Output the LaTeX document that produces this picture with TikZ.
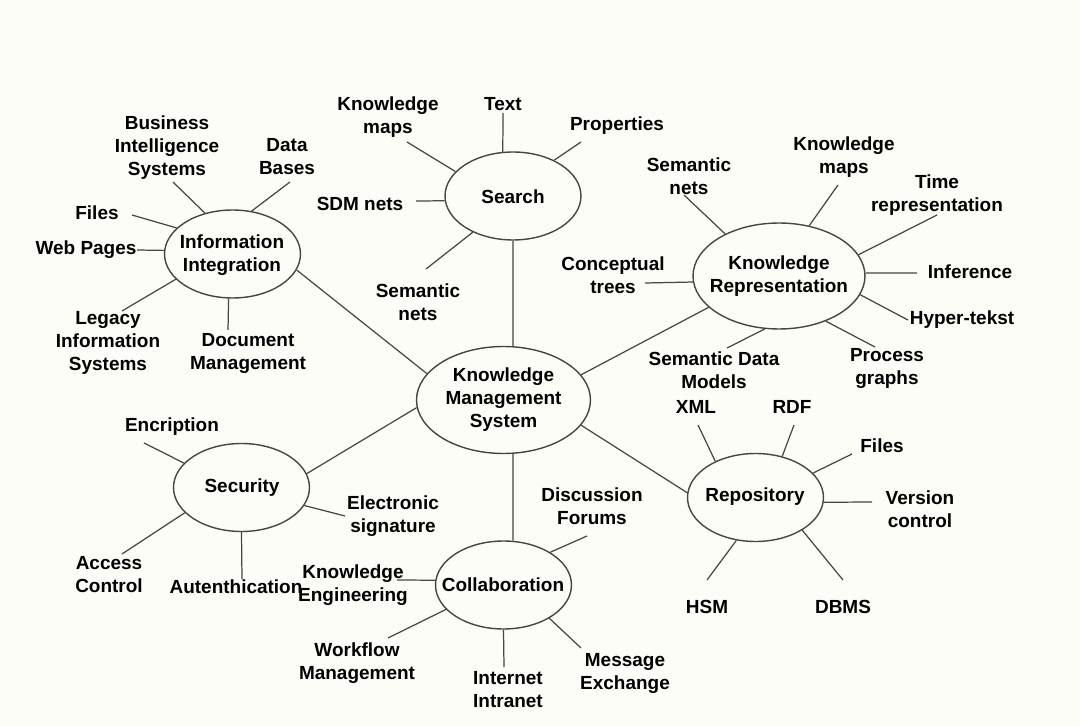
\documentclass[tikz,border=0pt]{standalone}
\usepackage{fontspec}
\setmainfont{Liberation Sans}
\usetikzlibrary{shapes.geometric}
\definecolor{bg}{RGB}{253,253,248}
\definecolor{edgec}{RGB}{70,70,70}
\tikzset{
  hub/.style={ellipse, draw=edgec, line width=0.8pt, inner sep=0pt, minimum width=2.72cm, minimum height=1.76cm},
  bighub/.style={hub, minimum width=3.48cm, minimum height=2.14cm},
  lbl/.style={font=\bfseries\fontsize{10.8pt}{13.1pt}\selectfont, align=center, inner sep=0pt, text=black},
  edge/.style={draw=edgec, line width=0.7pt}
}
\begin{document}
\begin{tikzpicture}[x=0.02cm, y=-0.02cm]
\fill[bg] (0,0) rectangle (1080,726);
\useasboundingbox (0,0) rectangle (1080,726);

% hubs
\node[bighub] (kms) at (503.5,400) {};
\node[bighub, minimum width=3.44cm, minimum height=2.12cm] (kr) at (779,276) {};
\node[hub] (search) at (513,196) {};
\node[hub] (ii) at (232.5,254) {};
\node[hub] (sec) at (241.5,487.5) {};
\node[hub] (col) at (503.5,585) {};
\node[hub] (rep) at (755.5,497.5) {};

\node[lbl] (kmsT) at (503.5,400) {Knowledge\\Management\\System};
\node[lbl] (krT) at (779,276) {Knowledge\\Representation};
\node[lbl] (searchT) at (513,197) {Search};
\node[lbl] (iiT) at (232,255) {Information\\Integration};
\node[lbl] (secT) at (242,488) {Security};
\node[lbl] (colT) at (503,585) {Collaboration};
\node[lbl] (repT) at (755,497) {Repository};

% hub connections
\draw[edge] (kms.80) -- (search.270);
\draw[edge] (kms.161) -- (ii.346);
\draw[edge] (kms.18) -- (kr.204);
\draw[edge] (kms.185) -- (sec.12);
\draw[edge] (kms.342) -- (rep.176);
\draw[edge] (kms.280) -- (col.78);

% Search leaves
\node[lbl] (sKM) at (388,117) {Knowledge\\maps};
\node[lbl] (sText) at (503,104) {Text};
\node[lbl] (sProp) at (617,126) {Properties};
\node[lbl] (sSDM) at (360,204) {SDM nets};
\node[lbl] (sSem) at (418,302) {Semantic\\nets};
\coordinate (sKMe) at (407,142);
\coordinate (sTexte) at (503,113);
\coordinate (sPrope) at (581,142);
\coordinate (sSDMe) at (416,201);
\coordinate (sSeme) at (426,269);
\draw[edge] (search.157) -- (sKMe);
\draw[edge] (search.103) -- (sTexte);
\draw[edge] (search.41) -- (sPrope);
\draw[edge] (search.184) -- (sSDMe);
\draw[edge] (search.222) -- (sSeme);

% Information Integration leaves
\node[lbl] (iBIS) at (167,148) {Business\\Intelligence\\Systems};
\node[lbl] (iDB) at (287,157) {Data\\Bases};
\node[lbl] (iFiles) at (97,213) {Files};
\node[lbl] (iWeb) at (86,250) {Web Pages};
\node[lbl] (iLeg) at (108,343) {Legacy\\Information\\Systems};
\node[lbl] (iDoc) at (248,353) {Document\\Management};
\coordinate (iBISe) at (173,182);
\coordinate (iDBe) at (290,182);
\coordinate (iFilese) at (132,215);
\coordinate (iWebe) at (137,250);
\coordinate (iLege) at (122,311);
\coordinate (iDoce) at (228,330);
\draw[edge] (ii.124) -- (iBISe);
\draw[edge] (ii.66) -- (iDBe);
\draw[edge] (ii.155) -- (iFilese);
\draw[edge] (ii.177) -- (iWebe);
\draw[edge] (ii.204) -- (iLege);
\draw[edge] (ii.265) -- (iDoce);

% Knowledge Representation leaves
\node[lbl] (kSem) at (689,176) {Semantic\\nets};
\node[lbl] (kKM) at (844,157) {Knowledge\\maps};
\node[lbl] (kTime) at (937,195) {Time\\representation};
\node[lbl] (kInf) at (970,272) {Inference};
\node[lbl] (kHyp) at (962,320) {Hyper-tekst};
\node[lbl] (kProc) at (887,368) {Process\\graphs};
\node[lbl] (kSDM) at (714,370) {Semantic Data\\Models};
\node[lbl] (kConc) at (613,275) {Conceptual\\trees};
\coordinate (kSeme) at (684,195);
\coordinate (kKMe) at (838,185);
\coordinate (kTimee) at (937,215);
\coordinate (kInfe) at (917,273);
\coordinate (kHype) at (908,320);
\coordinate (kProce) at (875,347);
\coordinate (kSDMe) at (727,348);
\coordinate (kConce) at (645,283);
\draw[edge] (kr.142) -- (kSeme);
\draw[edge] (kr.59) -- (kKMe);
\draw[edge] (kr.15) -- (kTimee);
\draw[edge] (kr.2) -- (kInfe);
\draw[edge] (kr.347) -- (kHype);
\draw[edge] (kr.316) -- (kProce);
\draw[edge] (kr.255) -- (kSDMe);
\draw[edge] (kr.184) -- (kConce);

% Security leaves
\node[lbl] (cEnc) at (172,427) {Encription};
\node[lbl] (cEle) at (393,516) {Electronic\\signature};
\node[lbl] (cAcc) at (109,575) {Access\\Control};
\node[lbl] (cAut) at (236,587) {Autenthication};
\coordinate (cEnce) at (144,443);
\coordinate (cElee) at (345,516);
\coordinate (cAcce) at (122,554);
\coordinate (cAute) at (242,579);
\draw[edge] (sec.157) -- (cEnce);
\draw[edge] (sec.344) -- (cElee);
\draw[edge] (sec.204) -- (cAcce);
\draw[edge] (sec.270) -- (cAute);

% Collaboration leaves
\node[lbl] (lKE) at (353,585) {Knowledge\\Engineering};
\node[lbl] (lWM) at (357,663) {Workflow\\Management};
\node[lbl] (lDF) at (592,506) {Discussion\\Forums};
\node[lbl] (lII) at (508,690) {Internet\\Intranet};
\node[lbl] (lME) at (625,673) {Message\\Exchange};
\coordinate (lKEe) at (397,580);
\coordinate (lWMe) at (388,638);
\coordinate (lDFe) at (587,536);
\coordinate (lIIe) at (504,667);
\coordinate (lMEe) at (581,648);
\draw[edge] (col.176) -- (lKEe);
\draw[edge] (col.203) -- (lWMe);
\draw[edge] (col.35) -- (lDFe);
\draw[edge] (col.270) -- (lIIe);
\draw[edge] (col.324) -- (lMEe);

% Repository leaves
\node[lbl] (rXML) at (696,407) {XML};
\node[lbl] (rRDF) at (792,407) {RDF};
\node[lbl] (rFiles) at (882,446) {Files};
\node[lbl] (rVer) at (920,509) {Version\\control};
\node[lbl] (rHSM) at (707,607) {HSM};
\node[lbl] (rDBMS) at (843,607) {DBMS};
\coordinate (rXMLe) at (698,425);
\coordinate (rRDFe) at (794,425);
\coordinate (rFilese) at (852,454);
\coordinate (rVere) at (872,502);
\coordinate (rHSMe) at (707,580);
\coordinate (rDBMSe) at (843,580);
\draw[edge] (rep.138) -- (rXMLe);
\draw[edge] (rep.57) -- (rRDFe);
\draw[edge] (rep.23) -- (rFilese);
\draw[edge] (rep.356) -- (rVere);
\draw[edge] (rep.246) -- (rHSMe);
\draw[edge] (rep.325) -- (rDBMSe);
\end{tikzpicture}
\end{document}
